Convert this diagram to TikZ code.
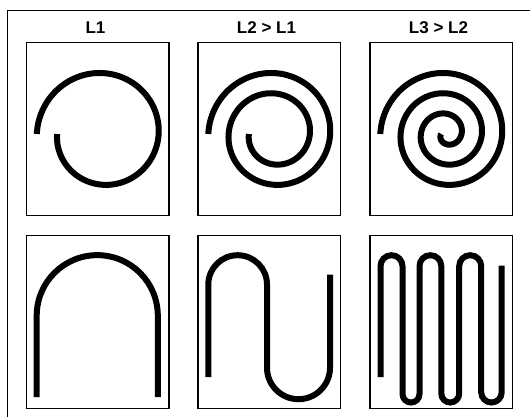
\documentclass[tikz,border=0pt]{standalone}
\usepackage{fontspec}
\setmainfont{Liberation Sans}
\begin{document}
\begin{tikzpicture}[x=1pt,y=1pt,
  panel/.style={draw, line width=1.3pt, minimum width=142.5pt, minimum height=173pt, inner sep=0pt, outer sep=0pt, anchor=north west},
  title/.style={font=\bfseries\fontsize{17}{20}\selectfont, anchor=base, inner sep=0pt},
  wire/.style={line width=6pt}]
\useasboundingbox (0,0) rectangle (530,416);
\clip (0,0) rectangle (530,416);
\draw[line width=1pt] (7,-5) -- (7,405.5) -- (540,405.5);
% panels
\node[panel] (p1) at (26.5,373.5) {};
\node[panel] (p2) at (198,373.5) {};
\node[panel] (p3) at (370,373.5) {};
\node[panel] (p4) at (26.5,180.5) {};
\node[panel] (p5) at (198,180.5) {};
\node[panel] (p6) at (370,180.5) {};
% titles
\node[title] (t1) at (95.5,382.5) {L1};
\node[title] (t2) at (266.5,382.5) {L2 > L1};
\node[title] (t3) at (438.5,382.5) {L3 > L2};
% spirals
\begin{scope}[shift={(p1.north west)}]
\draw[wire] plot[domain=0:360, samples=150, smooth, variable=\t]
  ({76.3+(66-20.3*(\t/360))*cos(180-\t)}, {-91.5+(66-20.3*(\t/360))*sin(180-\t)});
\end{scope}
\begin{scope}[shift={(p2.north west)}]
\draw[wire] plot[domain=0:720, samples=300, smooth, variable=\t]
  ({76.3+(66-20.3*(\t/360))*cos(180-\t)}, {-91.5+(66-20.3*(\t/360))*sin(180-\t)});
\end{scope}
\begin{scope}[shift={(p3.north west)}]
\draw[wire] plot[domain=0:1080, samples=450, smooth, variable=\t]
  ({76.3+(66-20.3*(\t/360))*cos(180-\t)}, {-91.5+(66-20.3*(\t/360))*sin(180-\t)});
\end{scope}
% arch
\begin{scope}[shift={(p4.north west)}]
\draw[wire] (10.2,-161.7) -- (10.2,-80.2) arc[start angle=180, end angle=0, radius=60.55] -- (131.3,-161.7);
\end{scope}
% S shape
\begin{scope}[shift={(p5.north west)}]
\draw[wire] (10.3,-141.7) -- (10.3,-49.05) arc[start angle=180, end angle=0, radius=29.35]
  -- (69,-132.2) arc[start angle=180, end angle=360, radius=31.5] -- (132,-39);
\end{scope}
% meander
\begin{scope}[shift={(p6.north west)}]
\draw[wire] (10.5,-141.7) -- (10.5,-30.7) arc[start angle=180, end angle=0, radius=11]
  -- (32.5,-158.5) arc[start angle=180, end angle=360, radius=8.5]
  -- (49.5,-30.6) arc[start angle=180, end angle=0, radius=10.9]
  -- (71.3,-158.05) arc[start angle=180, end angle=360, radius=8.95]
  -- (89.2,-30.7) arc[start angle=180, end angle=0, radius=11]
  -- (111.2,-156.75) arc[start angle=180, end angle=360, radius=10.25]
  -- (131.7,-30);
\end{scope}
\end{tikzpicture}
\end{document}
